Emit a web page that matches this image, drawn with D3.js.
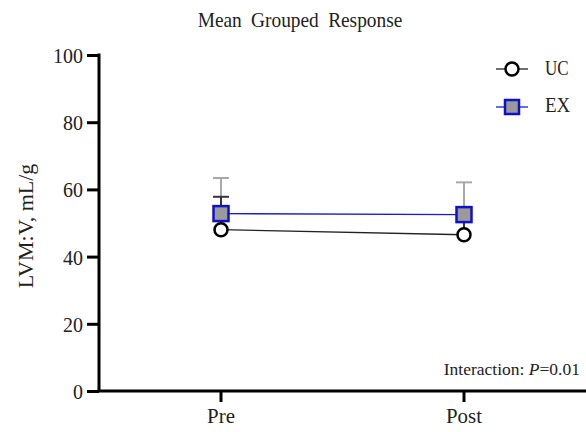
<!DOCTYPE html>
<html>
<head>
<meta charset="utf-8">
<script src="https://cdn.jsdelivr.net/npm/d3@7"></script>
<style>
  html, body { margin: 0; padding: 0; background: #fff; }
  svg { display: block; }
  svg text { font-family: "Liberation Serif", "DejaVu Serif", serif; fill: #222; }
</style>
</head>
<body>
<svg id="chart" width="586" height="432"></svg>
<script>
// Time points and y-axis ticks
const timepoints = ["Pre", "Post"];
const yTicks = [0, 20, 40, 60, 80, 100];

// Group means and upper error (SD) per time point
const ucMeans = [48.0, 46.5];
const ucErr = [9.8, 4.2];
const exMeans = [52.8, 52.5];
const exErr = [10.6, 9.6];

const svg = d3.select("#chart");
const W = 586, H = 432;
const axisX = 99, axisY = 391, topY = 55;

const x = d3.scalePoint().domain(timepoints).range([221, 464]);
const y = d3.scaleLinear().domain([0, 100]).range([axisY, topY]);

// Narrow the serif glyphs horizontally to a given fraction of their natural width
function squeeze(sel, k) {
  sel.each(function () {
    const w = this.getComputedTextLength();
    d3.select(this).attr("textLength", w * k).attr("lengthAdjust", "spacingAndGlyphs");
  });
  return sel;
}

// Title
squeeze(svg.append("text")
  .attr("x", 300).attr("y", 27)
  .attr("text-anchor", "middle")
  .attr("font-size", 21.5)
  .attr("word-spacing", 5)
  .text("Mean Grouped Response"), 0.9);

// Y axis
const yAxis = svg.append("g")
  .attr("transform", `translate(${axisX},0)`)
  .call(d3.axisLeft(y).tickValues(yTicks).tickSize(12).tickPadding(4));
yAxis.attr("font-family", null).attr("font-size", null);
yAxis.select(".domain").attr("stroke", "#000").attr("stroke-width", 3)
  .attr("d", `M0,${topY - 1.5}V${axisY}`);
yAxis.selectAll(".tick line").attr("stroke", "#000").attr("stroke-width", 3);
squeeze(yAxis.selectAll(".tick text").attr("font-size", 21).attr("fill", "#222").attr("dy", "0.36em"), 0.95);

// X axis
const xAxis = svg.append("g").attr("transform", `translate(0,${axisY})`);
xAxis.append("line")
  .attr("x1", axisX - 1.5).attr("x2", W)
  .attr("stroke", "#000").attr("stroke-width", 3);
timepoints.forEach(t => {
  xAxis.append("line")
    .attr("x1", x(t)).attr("x2", x(t)).attr("y1", 0).attr("y2", 11)
    .attr("stroke", "#000").attr("stroke-width", 3);
  squeeze(xAxis.append("text")
    .attr("x", x(t)).attr("y", 32)
    .attr("text-anchor", "middle")
    .attr("font-size", 22)
    .text(t), 0.95);
});

// Y axis title
svg.append("text")
  .attr("transform", `translate(33,${y(50) + 3}) rotate(-90)`)
  .attr("text-anchor", "middle")
  .attr("font-size", 22)
  .text("LVM:V, mL/g");

// Error bars (upper only)
function errorBars(means, errs, color, w) {
  const g = svg.append("g");
  timepoints.forEach((t, i) => {
    const top = y(means[i] + errs[i]);
    g.append("line")
      .attr("x1", x(t)).attr("x2", x(t))
      .attr("y1", y(means[i])).attr("y2", top)
      .attr("stroke", color).attr("stroke-width", w);
    g.append("line")
      .attr("x1", x(t) - 8).attr("x2", x(t) + 8)
      .attr("y1", top).attr("y2", top)
      .attr("stroke", color).attr("stroke-width", w);
  });
}
errorBars(exMeans, exErr, "#a8a8a8", 2);
errorBars(ucMeans, ucErr, "#333", 2);

// Connecting lines
const line = d3.line().x((d, i) => x(timepoints[i])).y(d => y(d));
svg.append("path").datum(ucMeans).attr("d", line)
  .attr("fill", "none").attr("stroke", "#222").attr("stroke-width", 1.3);
svg.append("path").datum(exMeans).attr("d", line)
  .attr("fill", "none").attr("stroke", "#1a1ad6").attr("stroke-width", 1.3);

// EX markers (squares)
svg.append("g").selectAll("rect").data(exMeans).join("rect")
  .attr("x", (d, i) => x(timepoints[i]) - 7.5)
  .attr("y", d => y(d) - 7.5)
  .attr("width", 15).attr("height", 15)
  .attr("fill", "#9a9a9a").attr("stroke", "#1010c8").attr("stroke-width", 2.5);

// UC markers (circles)
svg.append("g").selectAll("circle").data(ucMeans).join("circle")
  .attr("cx", (d, i) => x(timepoints[i]))
  .attr("cy", d => y(d))
  .attr("r", 6.5)
  .attr("fill", "#fff").attr("stroke", "#000").attr("stroke-width", 2.5);

// Legend
const leg = svg.append("g");
leg.append("line").attr("x1", 496).attr("x2", 528).attr("y1", 69).attr("y2", 69)
  .attr("stroke", "#222").attr("stroke-width", 1.3);
leg.append("circle").attr("cx", 512).attr("cy", 69).attr("r", 6.5)
  .attr("fill", "#fff").attr("stroke", "#000").attr("stroke-width", 2.5);
squeeze(leg.append("text").attr("x", 545).attr("y", 75).attr("font-size", 20).text("UC"), 0.85);
leg.append("line").attr("x1", 496).attr("x2", 528).attr("y1", 107).attr("y2", 107)
  .attr("stroke", "#1a1ad6").attr("stroke-width", 1.3);
leg.append("rect").attr("x", 505).attr("y", 100).attr("width", 14).attr("height", 14)
  .attr("fill", "#9a9a9a").attr("stroke", "#1010c8").attr("stroke-width", 2.5);
squeeze(leg.append("text").attr("x", 545).attr("y", 112).attr("font-size", 20).text("EX"), 0.95);

// Interaction annotation
const ann = svg.append("text")
  .attr("x", 580).attr("y", 375)
  .attr("text-anchor", "end")
  .attr("font-size", 17.5);
ann.append("tspan").text("Interaction: ");
ann.append("tspan").attr("font-style", "italic").text("P");
ann.append("tspan").text("=0.01");
</script>
</body>
</html>
